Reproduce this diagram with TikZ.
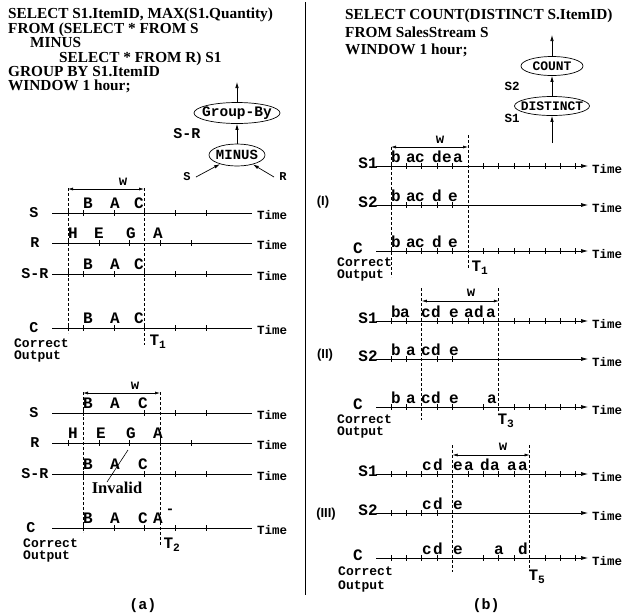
\documentclass[tikz,border=0pt]{standalone}
\usepackage{fontspec}
\setmainfont{Liberation Serif}
\newfontfamily\cour{Liberation Mono}
\newfontfamily\helv{Liberation Sans}
\usetikzlibrary{shapes.geometric,arrows.meta}
\newcommand\cf[1]{\cour\bfseries\fontsize{#1}{#1}\selectfont}
\newcommand\lrow[5]{%
 \draw[tl] (52,#1) -- (252,#1);
 \foreach \x in {#2} \draw[tl] (\x,#1-3) -- (\x,#1+3);
 \foreach \x/\c in {#3} \node[lt] at (\x,#1-5) {\c};
 \node[lab] at (#4,#1+4) {#5};
 \node[time] at (257,#1+6) {Time};
}
\newcommand\rrow[5]{%
 \draw[tl,-{Latex[length=7pt,width=4pt]}] (376,#1) -- (588,#1);
 \foreach \k in {#2} \draw[tl] ({391+15.4*\k},#1-3) -- ({391+15.4*\k},#1+3);
 \foreach \x/\c in {#3} \node[lt] at (\x,#1-4) {\c};
 \node[rlab] at (#4,#1+2) {#5};
 \node[time] at (592,#1+7) {Time};
}
\begin{document}
\begin{tikzpicture}[x=1pt,y=-1pt,
  tl/.style={line width=0.7pt},
  win/.style={line width=0.7pt, dash pattern=on 3pt off 2pt},
  warr/.style={line width=0.6pt, {Latex[length=5pt,width=3pt]}-{Latex[length=5pt,width=3pt]}},
  arr/.style={line width=0.7pt, -{Latex[length=6pt,width=3.5pt]}},
  sql/.style={font=\bfseries\fontsize{15.3}{15.3}\selectfont, anchor=base west, inner sep=0},
  lt/.style={font=\cf{16}, anchor=base, inner sep=0},
  lab/.style={font=\cf{15}, anchor=base, inner sep=0},
  rlab/.style={font=\cf{16}, anchor=base, inner sep=0},
  time/.style={font=\cf{12.5}, anchor=base west, inner sep=0},
  cor/.style={font=\cf{13}, anchor=base west, inner sep=0},
  tlab/.style={font=\cf{16}, inner sep=0},
  ell/.style={draw, ellipse, line width=0.7pt, inner sep=0},
  wl/.style={font=\cf{14}, inner sep=0},
  sec/.style={font=\helv\bfseries\fontsize{13}{13}\selectfont, inner sep=0},
  ]
\useasboundingbox (0,0) rectangle (624,614);

% divider
\draw[line width=0.7pt] (305,2) -- (305,595);

% ---------- left SQL
\node[sql] (q1) at (8,18) {SELECT S1.ItemID, MAX(S1.Quantity)};
\node[sql] (q2) at (8,33) {FROM (SELECT * FROM S};
\node[sql] (q3) at (30,47) {MINUS};
\node[sql] (q4) at (59,62) {SELECT * FROM R) S1};
\node[sql] (q5) at (8,76) {GROUP BY S1.ItemID};
\node[sql] (q6) at (8,90) {WINDOW 1 hour;};

% ---------- right SQL
\node[sql] (r1) at (345,19) {SELECT COUNT(DISTINCT S.ItemID)};
\node[sql] (r2) at (345,37) {FROM SalesStream S};
\node[sql] (r3) at (345,54) {WINDOW 1 hour;};

% ---------- left tree
\node[ell, minimum width=86, minimum height=21, font=\cf{14.5}] (gb) at (237,113) {\makebox[0pt]{Group-By}};
\node[ell, minimum width=56, minimum height=22, font=\cf{14}] (mi) at (237,155) {\makebox[0pt]{MINUS}};
\coordinate (gbtop) at (237,82);
\coordinate (sin) at (196,177);
\coordinate (rin) at (274,177);
\draw[arr] (gb) -- (gbtop);
\draw[arr] (mi) -- (gb);
\draw[arr] (sin) -- (mi);
\draw[arr] (rin) -- (mi);
\node[font=\cf{15}, inner sep=0] (srl) at (187,134) {S-R};
\node[font=\cf{12}, inner sep=0] (sl) at (187,177) {S};
\node[font=\cf{12}, inner sep=0] (rl) at (283,177) {R};

% ---------- right tree
\node[ell, minimum width=62, minimum height=19, font=\cf{13}] (cnt) at (552,66) {\makebox[0pt]{COUNT}};
\node[ell, minimum width=75, minimum height=19, font=\cf{13}] (dst) at (552,106) {\makebox[0pt]{DISTINCT}};
\coordinate (ctop) at (552,35);
\coordinate (dbot) at (552,143);
\draw[arr] (cnt) -- (ctop);
\draw[arr] (dst) -- (cnt);
\draw[arr] (dbot) -- (dst);
\node[font=\cf{12.5}, inner sep=0] (s2l) at (512,86) {S2};
\node[font=\cf{12.5}, inner sep=0] (s1l) at (512,118) {S1};

% ---------- (a) timeline 1
\draw[win] (68,188) -- (68,333);
\draw[win] (144,188) -- (144,345);
\draw[warr] (68,189) -- (144,189);
\node[wl] (w1) at (123,182) {w};
\lrow{213}{68,83,114,144,175,206}{88/B,115/A,139/C}{34}{S}
\lrow{243}{68,99,129,160,191}{73/H,99/E,131/G,158/A}{35}{R}
\lrow{274}{68,83,114,144,175,206}{88/B,115/A,139/C}{35}{S-R}
\lrow{328}{68,83,114,144,175,206}{88/B,115/A,139/C}{34}{C}
\node[cor] (c1a) at (14,347) {Correct};
\node[cor] (c1b) at (14,359) {Output};
\node[tlab] (T1a) at (158,342) {T\textsubscript{1}};

% ---------- (a) timeline 2
\draw[win] (83,392) -- (83,532);
\draw[win] (160,392) -- (160,545);
\draw[warr] (83,393) -- (160,393);
\node[wl] (w2) at (135,386) {w};
\lrow{413}{83,144,175,206}{88/B,115/A,143/C}{34}{S}
\lrow{443}{68,99,129,160,191}{73/H,101/E,131/G,158/A}{35}{R}
\lrow{474}{83,144,175,206}{88/B,115/A,143/C}{35}{S-R}
\lrow{528}{83,114,144,175,206}{88/B,115/A,143/C,158/A}{31}{C}
\node[font=\cf{14}, inner sep=0] (minus) at (170,511) {-};
\node[font=\bfseries\fontsize{16.5}{16.5}\selectfont, anchor=base, inner sep=0] (inv) at (117,493) {Invalid};
\coordinate (invtop) at (128,450);
\coordinate (invend) at (107,482);
\draw[line width=0.6pt] (invtop) -- (invend);
\node[cor] (c2a) at (23,547) {Correct};
\node[cor] (c2b) at (23,559) {Output};
\node[tlab] (T2a) at (172,545) {T\textsubscript{2}};

% ---------- (b) I
\draw[win] (391,147) -- (391,277);
\draw[win] (468,135) -- (468,268);
\draw[warr] (391,147) -- (468,147);
\node[wl] (w3) at (440,140) {w};
\rrow{166}{0,1,2,3,4,6,7,8,9,10,11,12}{396/b,411/a,420/c,437/d,447/e,458/a}{368}{S1}
\rrow{205}{0,1,2,3,4}{396/b,411/a,420/c,437/d,453/e}{368}{S2}
\rrow{251}{0,1,2,3,4,6,7,8,9,10,11,12}{396/b,411/a,420/c,437/d,453/e}{358}{C}
\node[sec] (sI) at (323,202) {(I)};
\node[cor] (c3a) at (337,266) {Correct};
\node[cor] (c3b) at (337,278) {Output};
\node[tlab] (T1b) at (480,268) {T\textsubscript{1}};

% ---------- (b) II
\draw[win] (421.8,288) -- (421.8,420);
\draw[win] (498.8,288) -- (498.8,412);
\draw[warr] (421.8,301) -- (498.8,301);
\node[wl] (w4) at (471,293) {w};
\rrow{321}{0,1,3,4,5,6,8,9,10,11,12}{396/b,405/a,426/c,436/d,454/e,469/a,479/d,491/a}{368}{S1}
\rrow{359}{0,1,3,4}{396/b,411/a,426/c,436/d,454/e}{368}{S2}
\rrow{407}{0,1,3,4,6,8,9,10,11,12}{396/b,411/a,426/c,436/d,454/e,492/a}{358}{C}
\node[sec] (sII) at (325,355) {(II)};
\node[cor] (c4a) at (337,423) {Correct};
\node[cor] (c4b) at (337,435) {Output};
\node[tlab] (T3) at (506,421) {T\textsubscript{3}};

% ---------- (b) III
\draw[win] (452.6,445) -- (452.6,572);
\draw[win] (529.6,445) -- (529.6,568);
\draw[warr] (452.6,455) -- (529.6,455);
\node[wl] (w5) at (503,447) {w};
\rrow{474}{0,1,2,3,5,6,7,8,10,11,12}{427/c,438/d,458/e,469/a,485/d,495/a,512/a,523/a}{368}{S1}
\rrow{513}{0,1,2,3}{427/c,438/d,458/e}{368}{S2}
\rrow{558}{0,1,2,3,6,7,8,10,11,12}{427/c,438/d,458/e,499/a,523/d}{358}{C}
\node[sec] (sIII) at (326,514) {(III)};
\node[cor] (c5a) at (338,575) {Correct};
\node[cor] (c5b) at (338,589) {Output};
\node[tlab] (T5) at (537,577) {T\textsubscript{5}};

% ---------- captions
\node[font=\cf{15}, inner sep=0] (capa) at (143,606) {(a)};
\node[font=\cf{15}, inner sep=0] (capb) at (486,606) {(b)};
\end{tikzpicture}
\end{document}
